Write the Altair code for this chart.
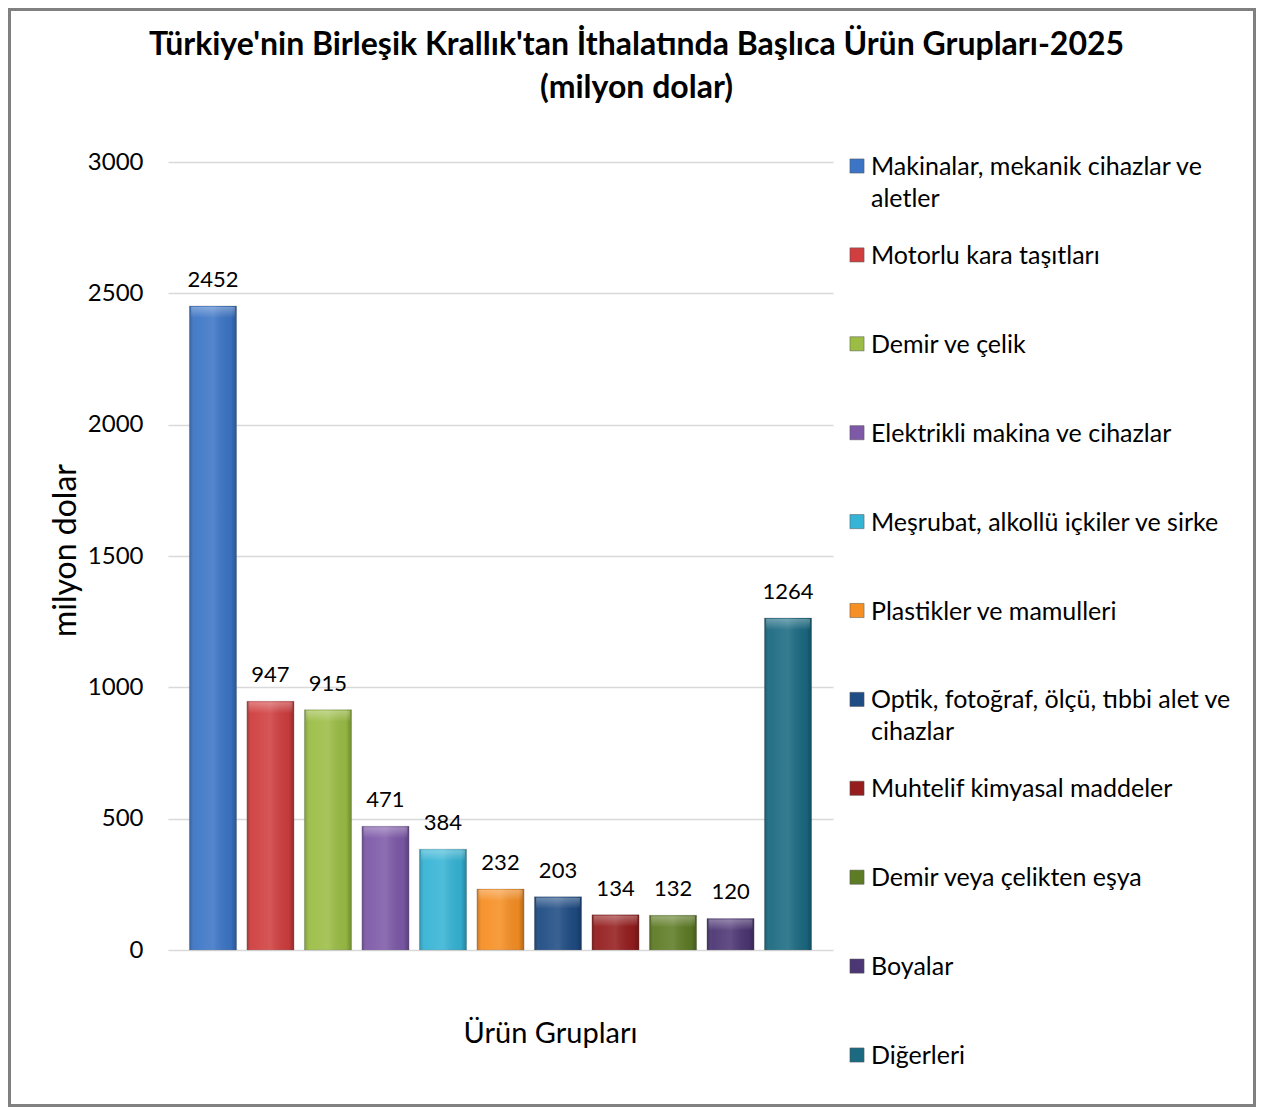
import altair as alt
import pandas as pd

categories = [
    "Makinalar, mekanik cihazlar ve aletler",
    "Motorlu kara taşıtları",
    "Demir ve çelik",
    "Elektrikli makina ve cihazlar",
    "Meşrubat, alkollü içkiler ve sirke",
    "Plastikler ve mamulleri",
    "Optik, fotoğraf, ölçü, tıbbi alet ve cihazlar",
    "Muhtelif kimyasal maddeler",
    "Demir veya çelikten eşya",
    "Boyalar",
    "Diğerleri",
]
legend_labels = [
    "Makinalar, mekanik cihazlar ve\naletler",
    "Motorlu kara taşıtları",
    "Demir ve çelik",
    "Elektrikli makina ve cihazlar",
    "Meşrubat, alkollü içkiler ve sirke",
    "Plastikler ve mamulleri",
    "Optik, fotoğraf, ölçü, tıbbi alet ve\ncihazlar",
    "Muhtelif kimyasal maddeler",
    "Demir veya çelikten eşya",
    "Boyalar",
    "Diğerleri",
]
values = [2452, 947, 915, 471, 384, 232, 203, 134, 132, 120, 1264]
colors = [
    "#3c75c6", "#d03e3f", "#9bbd45", "#7d59a8", "#36b4d5", "#f68f24",
    "#1f4c84", "#951d1e", "#5e7c25", "#4d3674", "#1b6a82",
]
y_ticks = [0, 500, 1000, 1500, 2000, 2500, 3000]

df = pd.DataFrame({"cat": categories, "val": values, "label": legend_labels})

FONT = "Lato"
W, H = 665, 788
PAD_L, PAD_T, PAD_R, PAD_B = 160, 154, 423, 157

color_scale = alt.Scale(domain=categories, range=colors)
x_axis = alt.Axis(labels=False, ticks=False, domain=False, grid=False,
                  title="Ürün Grupları", titleFont=FONT, titleFontSize=29,
                  titleFontWeight="normal", titleColor="#000000",
                  titleX=382, titleY=92, titleAlign="center",
                  titleBaseline="alphabetic")
x_enc = alt.X("cat:N", sort=categories,
              scale=alt.Scale(paddingInner=0.18, paddingOuter=0.372),
              axis=x_axis)
y_scale = alt.Scale(domain=[0, 3000], nice=False)
y_axis = alt.Axis(values=y_ticks, format="d", grid=True, gridColor="#d9d9d9",
                  gridWidth=1.5, domain=False, ticks=False,
                  labelFont=FONT, labelFontSize=24, labelColor="#000000",
                  labelPadding=25, title="milyon dolar",
                  titleFont=FONT, titleFontSize=32,
                  titleFontWeight="normal", titleColor="#000000",
                  titleX=-103, titleY=388, titleAlign="center",
                  titleBaseline="middle", titleAngle=-90)
y_enc = alt.Y("val:Q", scale=y_scale, axis=y_axis)

base = alt.Chart(df)

bars = base.mark_bar(stroke="#7f7f7f", strokeOpacity=0.35, strokeWidth=0.8).encode(
    x=x_enc, y=y_enc,
    color=alt.Color("cat:N", scale=color_scale, legend=None),
)

shade = base.mark_bar(
    color=alt.Gradient(
        gradient="linear", x1=0, x2=1, y1=0, y2=0,
        stops=[
            alt.GradientStop(offset=0, color="rgba(0,0,0,0.22)"),
            alt.GradientStop(offset=0.12, color="rgba(255,255,255,0.05)"),
            alt.GradientStop(offset=0.5, color="rgba(255,255,255,0.12)"),
            alt.GradientStop(offset=0.88, color="rgba(0,0,0,0.05)"),
            alt.GradientStop(offset=1, color="rgba(0,0,0,0.28)"),
        ],
    )
).encode(x=x_enc, y=y_enc)

bevel = base.mark_tick(
    orient="horizontal", thickness=11, size=44, yOffset=6.5,
    color=alt.Gradient(
        gradient="linear", x1=0, x2=0, y1=0, y2=1,
        stops=[
            alt.GradientStop(offset=0, color="rgba(255,255,255,0.45)"),
            alt.GradientStop(offset=1, color="rgba(255,255,255,0.0)"),
        ],
    ),
).encode(x=x_enc, y=y_enc)

value_text = base.mark_text(
    font=FONT, fontSize=22, color="#000000", baseline="alphabetic", dy=-19
).encode(x=x_enc, y=y_enc, text=alt.Text("val:Q"))

leg_y = alt.Y("cat:N", sort=categories,
              scale=alt.Scale(type="point", range=[4, 893], padding=0),
              axis=None)

leg_sq = base.mark_square(size=200, opacity=1, stroke="#555555",
                          strokeWidth=0.5).encode(
    x=alt.value(689), y=leg_y,
    color=alt.Color("cat:N", scale=color_scale, legend=None),
)
leg_txt = base.mark_text(
    font=FONT, fontSize=25, color="#000000", align="left", baseline="top",
    dy=-11, lineBreak="\n", lineHeight=32,
).encode(x=alt.value(703), y=leg_y, text="label:N")

frame = alt.Chart(pd.DataFrame({"a": [0]})).mark_rect(
    fill="transparent", stroke="#808080", strokeWidth=3
).encode(
    x=alt.value(-PAD_L + 1.5), x2=alt.value(W + PAD_R - 1.5),
    y=alt.value(-PAD_T + 1.5), y2=alt.value(H + PAD_B - 1.5),
)

main = alt.layer(bars, shade, bevel, value_text)
legend = alt.layer(leg_sq, leg_txt)

chart = alt.layer(main, legend, frame).resolve_scale(y="independent").properties(
    width=W, height=H,
    autosize=alt.AutoSizeParams(type="none"),
    padding={"left": PAD_L, "top": PAD_T, "right": PAD_R, "bottom": PAD_B},
    view=alt.ViewBackground(stroke="transparent", strokeWidth=0, fill="white"),
    title=alt.TitleParams(
        text=["Türkiye'nin Birleşik Krallık'tan İthalatında Başlıca Ürün Grupları-2025",
              "(milyon dolar)"],
        font=FONT, fontSize=32, fontWeight="bold", color="#000000",
        anchor="middle", dx=136, offset=-97, lineHeight=43,
    ),
).configure_view(
    stroke="transparent", strokeWidth=0, strokeOpacity=0
).configure(background="white")

chart.save("out.html", embed_options={"renderer": "svg", "actions": False})
